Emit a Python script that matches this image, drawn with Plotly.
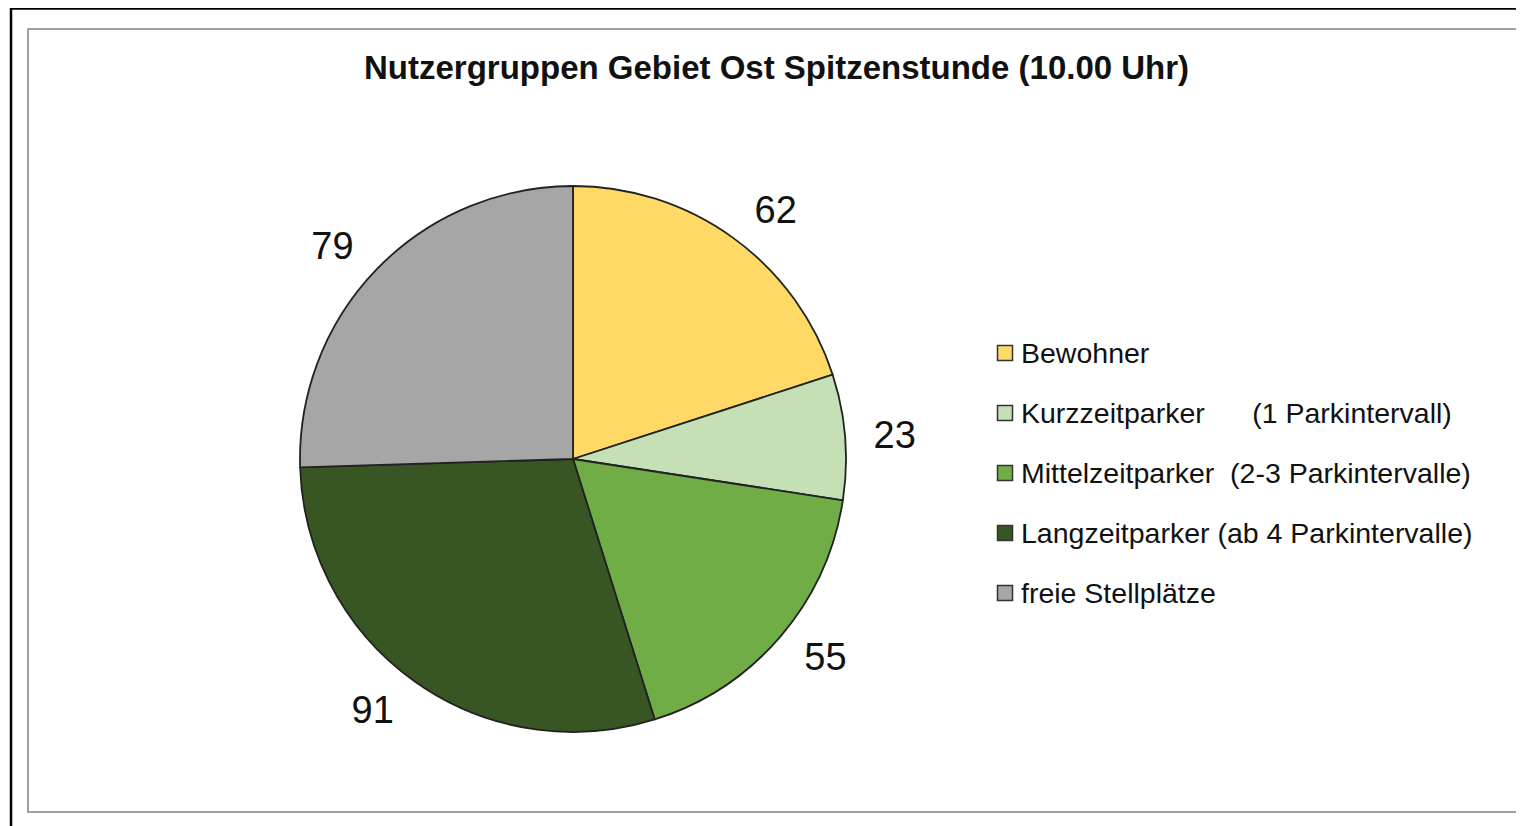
import plotly.graph_objects as go

# ---- data ----
categories = [
    "Bewohner",
    "Kurzzeitparker      (1 Parkintervall)",
    "Mittelzeitparker  (2-3 Parkintervalle)",
    "Langzeitparker (ab 4 Parkintervalle)",
    "freie Stellplätze",
]
values = [62, 23, 55, 91, 79]
colors = ["#FFD966", "#C5E0B4", "#70AD47", "#375623", "#A6A6A6"]
title_text = "Nutzergruppen Gebiet Ost Spitzenstunde (10.00 Uhr)"

W, H = 1524, 826
OFF = 8  # page body margin
FONT = "Liberation Sans, Arial, sans-serif"

def px_x(x):
    return (x - OFF) / W

def px_y(y):
    return 1 - (y - OFF) / H

cx, cy, r = 573, 459, 273
r_lab = r + 18  # radius of the (invisible) pie that carries the value labels

def dom(rad):
    return dict(x=[px_x(cx - rad), px_x(cx + rad)],
                y=[px_y(cy + rad), px_y(cy - rad)])

fig = go.Figure()
# visible pie
fig.add_trace(go.Pie(
    labels=categories,
    values=values,
    sort=False,
    direction="clockwise",
    rotation=0,
    marker=dict(colors=colors, line=dict(color="#222222", width=1.8)),
    textinfo="none",
    textposition="none",
    domain=dom(r),
    showlegend=False,
    hoverinfo="label+value",
))
# value labels, placed by plotly outside a slightly larger transparent pie
fig.add_trace(go.Pie(
    labels=categories,
    values=values,
    sort=False,
    direction="clockwise",
    rotation=0,
    marker=dict(colors=["rgba(0,0,0,0)"] * len(values), line=dict(width=0)),
    texttemplate="%{value}",
    textposition="outside",
    textfont=dict(family=FONT, size=38, color="#111111"),
    domain=dom(r_lab),
    showlegend=False,
    hoverinfo="skip",
))

shapes = [
    # outer black frame
    dict(type="rect", xref="paper", yref="paper",
         x0=px_x(11), x1=px_x(1545), y0=px_y(845), y1=px_y(8.5),
         line=dict(color="#000000", width=2.5), fillcolor="rgba(0,0,0,0)", layer="above"),
    # inner grey chart frame
    dict(type="rect", xref="paper", yref="paper",
         x0=px_x(28), x1=px_x(1522), y0=px_y(812), y1=px_y(29),
         line=dict(color="#A0A0A0", width=2), fillcolor="rgba(0,0,0,0)", layer="below"),
]
annotations = [
    dict(text="<b>" + title_text + "</b>", xref="paper", yref="paper",
         x=px_x(776), y=px_y(68), xanchor="center", yanchor="middle",
         showarrow=False, font=dict(family=FONT, size=33, color="#111111")),
]

# legend (one row per category)
leg_x, leg_y0, leg_dy, sq = 1005, 353, 60, 15
for i, (lab, col) in enumerate(zip(categories, colors)):
    yc = leg_y0 + i * leg_dy
    shapes.append(dict(type="rect", xref="paper", yref="paper",
                       x0=px_x(leg_x - sq / 2), x1=px_x(leg_x + sq / 2),
                       y0=px_y(yc + sq / 2), y1=px_y(yc - sq / 2),
                       line=dict(color="#333333", width=1.5), fillcolor=col))
    annotations.append(dict(text=lab.replace(" ", "\u00a0"), xref="paper", yref="paper",
                            x=px_x(1019), y=px_y(yc), xanchor="left", yanchor="middle",
                            showarrow=False,
                            font=dict(family=FONT, size=28.5, color="#111111")))

fig.update_layout(
    width=W, height=H,
    margin=dict(l=0, r=0, t=0, b=0),
    paper_bgcolor="white",
    plot_bgcolor="white",
    shapes=shapes,
    annotations=annotations,
    showlegend=False,
)

fig.write_html("out.html")
